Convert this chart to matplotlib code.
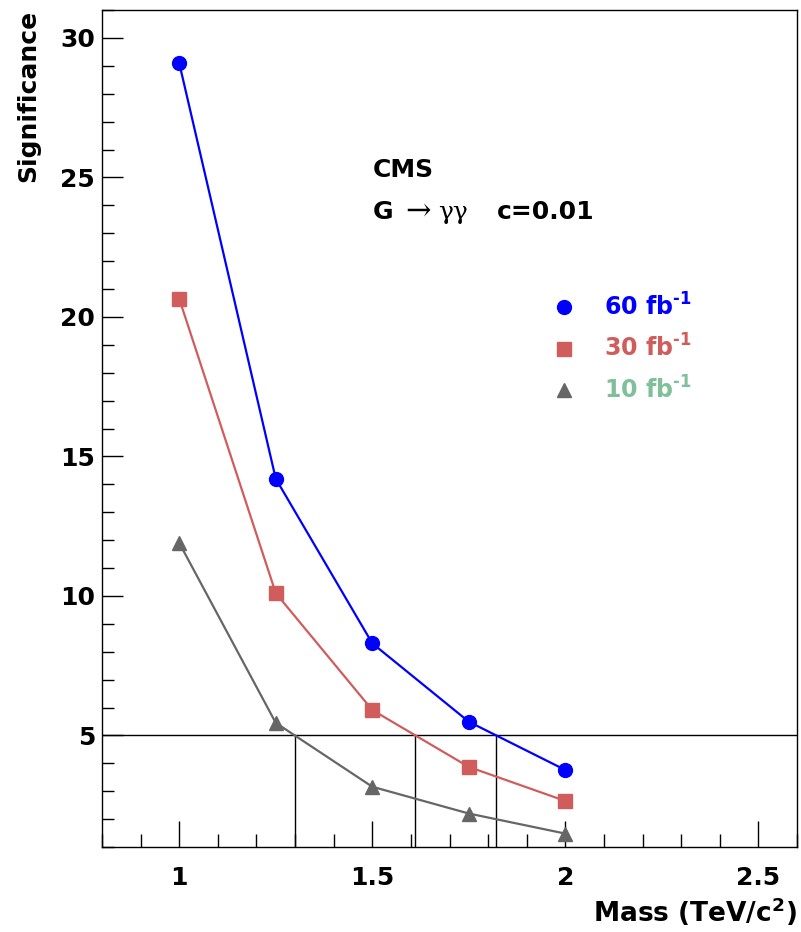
import matplotlib
matplotlib.use("Agg")
import matplotlib.pyplot as plt
import numpy as np
from matplotlib.lines import Line2D
from matplotlib.ticker import MultipleLocator, FixedLocator

plt.rcParams['font.family'] = ['DejaVu Sans']
plt.rcParams['font.weight'] = 'bold'
plt.rcParams['mathtext.default'] = 'regular'

# ---- data ----
mass = [1.0, 1.25, 1.5, 1.75, 2.0]
sig_60 = [29.1, 14.2, 8.3, 5.49, 3.76]
sig_30 = [20.65, 10.1, 5.91, 3.87, 2.65]
sig_10 = [11.9, 5.45, 3.16, 2.2, 1.48]
labels = [r"60 fb$^{\text{-}1}$", r"30 fb$^{\text{-}1}$", r"10 fb$^{\text{-}1}$"]
line_colors = ["#0000ff", "#d05c5c", "#666666"]
text_colors = ["#0000ff", "#d05c5c", "#7fbf9a"]
markers = ["o", "s", "^"]
threshold = 5.0
x_major = [1.0, 1.5, 2.0, 2.5]
x_labels = ["1", "1.5", "2", "2.5"]

fig = plt.figure(figsize=(8.01, 9.32), dpi=100)
ax = fig.add_axes([102/801, 1-847/932, (797-102)/801, (847-10)/932])
ax.set_xlim(0.8, 2.6)
ax.set_ylim(1, 31)

series = [sig_60, sig_30, sig_10]
for ys, c, m in zip(series, line_colors, markers):
    ax.plot(mass, ys, color=c, lw=1.6, marker=m, ms=10 if m == 'o' else 9.5,
            mec=c, mfc=c, zorder=3)

# threshold line and crossing points
ax.axhline(threshold, color='black', lw=1.0, zorder=2)
for ys in series:
    arr = np.array(ys)
    idx = np.where((arr[:-1] >= threshold) & (arr[1:] < threshold))[0][0]
    x0, x1 = mass[idx], mass[idx+1]
    y0, y1 = arr[idx], arr[idx+1]
    xc = x0 + (y0 - threshold) * (x1 - x0) / (y0 - y1)
    ax.plot([xc, xc], [1, threshold], color='black', lw=1.0, zorder=2)

# ticks (ROOT style)
ax.xaxis.set_major_locator(FixedLocator(x_major))
ax.set_xticklabels(x_labels)
ax.xaxis.set_minor_locator(MultipleLocator(0.1))
ax.yaxis.set_major_locator(MultipleLocator(5))
ax.yaxis.set_minor_locator(MultipleLocator(1))
ax.tick_params(axis='both', which='both', direction='in', top=False, right=False)
ax.tick_params(axis='x', which='major', length=19, width=1, pad=14, labelsize=18)
ax.tick_params(axis='x', which='minor', length=9.5, width=1)
ax.tick_params(axis='y', which='major', length=15, width=1, pad=5, labelsize=18)
ax.tick_params(axis='y', which='minor', length=8.5, width=1)
for s in ax.spines.values():
    s.set_linewidth(1.0)
ax.set_yticks([5, 10, 15, 20, 25, 30])
ax.set_yticklabels(["5", "10", "15", "20", "25", "30"])

ax.set_xlabel("Mass (TeV/c$^{2}$)", fontsize=19, fontweight='bold', loc='right', labelpad=4)
ax.set_ylabel("Significance", fontsize=18, fontweight='bold', loc='top', labelpad=14)

# annotations
ax.text(0.390, 0.800, "CMS", transform=ax.transAxes, fontsize=18, fontweight='bold')
ax.text(0.390, 0.750, "G", transform=ax.transAxes, fontsize=18, fontweight='bold')
ax.text(0.437, 0.750, "\u2192", transform=ax.transAxes, fontsize=22,
        family=['DejaVu Serif'], fontweight='normal')
ax.text(0.484, 0.750, "\u03b3\u03b3", transform=ax.transAxes, fontsize=18,
        family=['DejaVu Serif'], fontweight='normal')
ax.text(0.568, 0.750, "c=0.01", transform=ax.transAxes, fontsize=18, fontweight='bold')

handles = [Line2D([], [], ls='none', marker=m, color=c, ms=10 if m == 'o' else 9.5)
           for m, c in zip(markers, line_colors)]
leg = ax.legend(handles, labels, loc='upper left', bbox_to_anchor=(0.617, 0.687), frameon=False,
                labelcolor=text_colors, handletextpad=1.2, labelspacing=0.6,
                handlelength=1.0, prop={'weight': 'bold', 'size': 17})

fig.savefig("out.png", dpi=100)
